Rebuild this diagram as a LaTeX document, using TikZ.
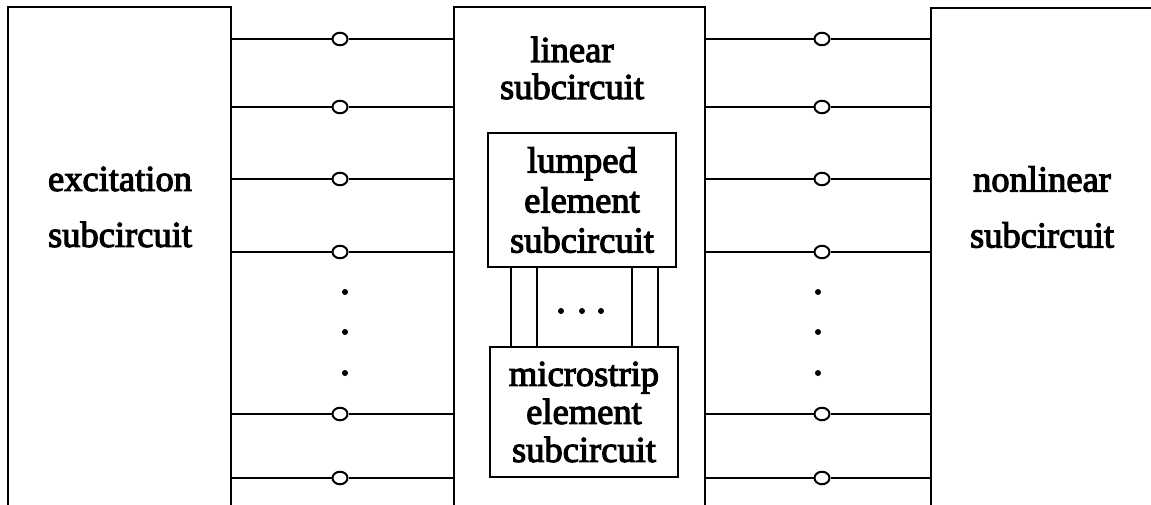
\documentclass[tikz,border=0pt]{standalone}
\usepackage{fontspec}
\setmainfont{Liberation Serif}
\newfontfamily\inkfont{Liberation Serif}[FakeBold=3]
\usetikzlibrary{shapes.geometric}
\begin{document}
\begin{tikzpicture}[x=1pt,y=-1pt,
  blk/.style={draw, line width=2.4pt, inner sep=0pt, outer sep=0pt, anchor=north west},
  sub/.style={draw, line width=2pt, inner sep=0pt, outer sep=0pt, align=center},
  lbl/.style={inner sep=0pt, align=center},
  port/.style={draw, ellipse, fill=white, line width=2pt, inner sep=0pt,
               minimum width=15pt, minimum height=12.5pt},
  wire/.style={line width=2pt},
  dotmark/.style={circle, fill, inner sep=0pt, minimum size=6pt}]

\useasboundingbox (0,0) rectangle (1151,505);
\clip (0,0) rectangle (1151,505);

% the three subcircuit blocks (open towards the bottom edge)
\node[blk, minimum width=223pt, minimum height=530pt] (exc) at (8,7) {};
\node[blk, minimum width=251pt, minimum height=530pt] (lin) at (454,7) {};
\node[blk, minimum width=260pt, minimum height=530pt] (nl)  at (931,8) {};

% block titles
\node[lbl, font=\inkfont\fontsize{36.5}{56}\selectfont] (excT) at (120,207) {excitation\\subcircuit};
\node[lbl, font=\inkfont\fontsize{36.5}{37}\selectfont] (linT) at (572,68) {linear\\subcircuit};
\node[lbl, font=\inkfont\fontsize{36.5}{56}\selectfont] (nlT) at (1042,207) {nonlinear\\subcircuit};

% inner subcircuits of the linear part
\node[sub, minimum width=188pt, minimum height=134pt, font=\inkfont\fontsize{36.5}{40}\selectfont]
  (lump) at (582,200) {lumped\\element\\subcircuit};
\node[sub, minimum width=188pt, minimum height=130pt, font=\inkfont\fontsize{36.5}{38}\selectfont]
  (micro) at (584,412) {microstrip\\element\\subcircuit};

% ports between the blocks
\foreach \y [count=\i] in {39,107,179,252,414,478} {
  \node[port] (pl\i) at (340,\y) {};
  \draw[wire] (exc.east |- pl\i) -- (pl\i) -- (lin.west |- pl\i);
  \node[port] (pr\i) at (822,\y) {};
  \draw[wire] (lin.east |- pr\i) -- (pr\i) -- (nl.west |- pr\i);
}

% links between the lumped and microstrip subcircuits
\foreach \dx in {-71,-45,50,76}
  \draw[line width=1.8pt] ([xshift=\dx pt]lump.south) -- ([xshift=\dx pt]lump.south |- micro.north);

% ellipsis marks
\foreach \x [count=\i] in {561,582,601} \node[dotmark] (hd\i) at (\x,311) {};
\foreach \y [count=\i] in {292,332,373} {
  \node[dotmark] (ld\i) at (345,\y) {};
  \node[dotmark] (rd\i) at (818,\y) {};
}
\end{tikzpicture}
\end{document}
